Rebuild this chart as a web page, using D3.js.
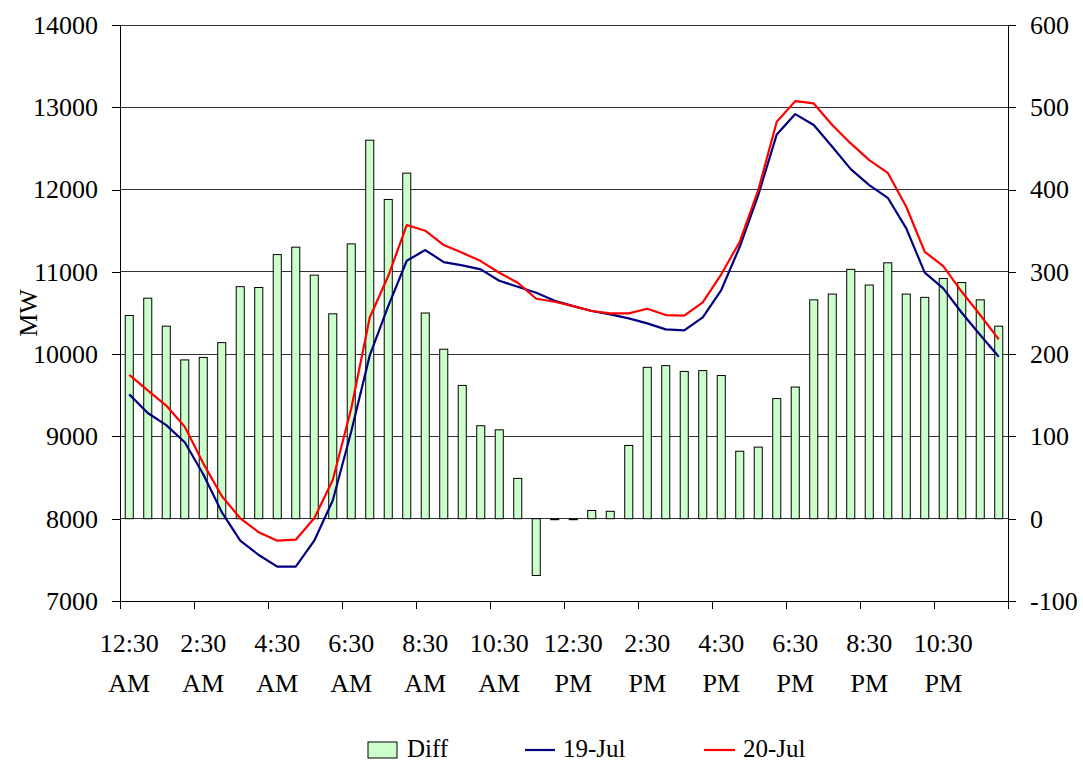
<!DOCTYPE html>
<html>
<head>
<meta charset="utf-8">
<script src="https://cdn.jsdelivr.net/npm/d3@7"></script>
<style>
  body { margin: 0; background: #fff; }
</style>
</head>
<body>
<div id="chart-container"></div>
<script>
// half hour intervals
const categories = [
    "12:30 AM", "1:00 AM", "1:30 AM", "2:00 AM", "2:30 AM", "3:00 AM", "3:30 AM", "4:00 AM",
    "4:30 AM", "5:00 AM", "5:30 AM", "6:00 AM", "6:30 AM", "7:00 AM", "7:30 AM", "8:00 AM",
    "8:30 AM", "9:00 AM", "9:30 AM", "10:00 AM", "10:30 AM", "11:00 AM", "11:30 AM", "12:00 PM",
    "12:30 PM", "1:00 PM", "1:30 PM", "2:00 PM", "2:30 PM", "3:00 PM", "3:30 PM", "4:00 PM",
    "4:30 PM", "5:00 PM", "5:30 PM", "6:00 PM", "6:30 PM", "7:00 PM", "7:30 PM", "8:00 PM",
    "8:30 PM", "9:00 PM", "9:30 PM", "10:00 PM", "10:30 PM", "11:00 PM", "11:30 PM", "12:00 AM"
];
const tickLabels = [
    "12:30 AM", "2:30 AM", "4:30 AM", "6:30 AM", "8:30 AM", "10:30 AM",
    "12:30 PM", "2:30 PM", "4:30 PM", "6:30 PM", "8:30 PM", "10:30 PM"
];
const diffValues = [
    247, 268, 234, 193, 196, 214, 282, 281, 321, 330, 296, 249,
    334, 460, 388, 420, 250, 206, 162, 113, 108, 49, -69, -1,
    -1, 10, 9, 89, 184, 186, 179, 180, 174, 82, 87, 146,
    160, 266, 273, 303, 284, 311, 273, 269, 292, 287, 266, 234
];
const jul19Values = [
    9511, 9285, 9138, 8930, 8540, 8080, 7733, 7559, 7417, 7417, 7733, 8222,
    9060, 9985, 10584, 11135, 11265, 11119, 11079, 11030, 10892, 10819, 10746, 10649,
    10584, 10524, 10484, 10435, 10374, 10301, 10289, 10447, 10779, 11305, 11933, 12670,
    12917, 12784, 12520, 12249, 12055, 11900, 11528, 10990, 10800, 10503, 10232, 9968
];
const jul20Values = [
    9748, 9560, 9375, 9118, 8673, 8276, 8005, 7835, 7733, 7745, 8005, 8470,
    9340, 10445, 10949, 11569, 11500, 11326, 11232, 11131, 10989, 10868, 10673, 10637,
    10584, 10524, 10496, 10496, 10552, 10475, 10467, 10629, 10970, 11366, 11994, 12824,
    13075, 13047, 12784, 12561, 12358, 12204, 11791, 11244, 11070, 10758, 10475, 10180
];
const leftTicks = [7000, 8000, 9000, 10000, 11000, 12000, 13000, 14000];
const rightTicks = [-100, 0, 100, 200, 300, 400, 500, 600];

const width = 1083;
const height = 762;
const plotLeft = 120;
const plotRight = 1008;
const plotTop = 25;
const plotBottom = 601;
const fontSize = 26;
const fontFamily = '"Liberation Serif", "Times New Roman", Times, serif';
const barFill = "#ccffcc";
const jul19Color = "#000080";
const jul20Color = "#ff0000";

const svg = d3.select("#chart-container").append("svg")
    .attr("width", width)
    .attr("height", height)
    .style("font-family", fontFamily);

const x = d3.scaleBand()
    .domain(categories)
    .range([plotLeft, plotRight])
    .paddingInner(0.565)
    .paddingOuter(0.2825);
const yLeft = d3.scaleLinear().domain([7000, 14000]).range([plotBottom, plotTop]);
const yRight = d3.scaleLinear().domain([-100, 600]).range([plotBottom, plotTop]);
const cx = (c) => x(c) + x.bandwidth() / 2;

// gridlines
svg.append("g")
    .selectAll("line")
    .data(leftTicks.slice(1))
    .enter().append("line")
    .attr("x1", plotLeft)
    .attr("x2", plotRight)
    .attr("y1", (d) => yLeft(d))
    .attr("y2", (d) => yLeft(d))
    .attr("stroke", "#333")
    .attr("stroke-width", 1)
    .attr("shape-rendering", "crispEdges");

// add bars
svg.append("g")
    .selectAll(".bar")
    .data(diffValues)
    .enter().append("rect")
    .attr("class", "bar")
    .attr("x", (d, i) => x(categories[i]))
    .attr("width", x.bandwidth())
    .attr("y", (d) => Math.min(yRight(d), yRight(0)))
    .attr("height", (d) => Math.max(1, Math.abs(yRight(d) - yRight(0))))
    .attr("fill", barFill)
    .attr("stroke", "#000")
    .attr("stroke-width", 1);

// add lines
const line = (values, scale) => d3.line()
    .x((d, i) => cx(categories[i]))
    .y((d) => scale(d))(values);
svg.append("path")
    .attr("d", line(jul19Values, yLeft))
    .attr("fill", "none")
    .attr("stroke", jul19Color)
    .attr("stroke-width", 2.2)
    .attr("stroke-linejoin", "round");
svg.append("path")
    .attr("d", line(jul20Values, yLeft))
    .attr("fill", "none")
    .attr("stroke", jul20Color)
    .attr("stroke-width", 2.2)
    .attr("stroke-linejoin", "round");

// left axis
const leftAxis = svg.append("g")
    .attr("transform", `translate(${plotLeft},0)`)
    .call(d3.axisLeft(yLeft).tickValues(leftTicks).tickFormat(d3.format("d"))
        .tickSize(8).tickSizeOuter(0).tickPadding(14));
// right axis
const rightAxis = svg.append("g")
    .attr("transform", `translate(${plotRight},0)`)
    .call(d3.axisRight(yRight).tickValues(rightTicks).tickFormat(d3.format("d"))
        .tickSize(8).tickSizeOuter(0).tickPadding(14));
for (let ax of [leftAxis, rightAxis]) {
    ax.attr("font-family", null).attr("font-size", null);
    ax.selectAll("path, line").attr("stroke", "#000").attr("shape-rendering", "crispEdges");
    ax.selectAll("text")
        .attr("fill", "#000")
        .style("font-family", fontFamily)
        .style("font-size", fontSize + "px");
}
rightAxis.selectAll("text").text((d) => d < 0 ? "-" + Math.abs(d) : d);

// bottom axis line and ticks
svg.append("line")
    .attr("x1", plotLeft).attr("x2", plotRight)
    .attr("y1", plotBottom).attr("y2", plotBottom)
    .attr("stroke", "#000")
    .attr("shape-rendering", "crispEdges");
const boundaryX = (i) => i < categories.length
    ? x(categories[i]) - x.step() * x.paddingInner() / 2
    : plotRight;
svg.append("g")
    .selectAll("line")
    .data(d3.range(0, categories.length + 1, 4))
    .enter().append("line")
    .attr("x1", (i) => boundaryX(i))
    .attr("x2", (i) => boundaryX(i))
    .attr("y1", plotBottom)
    .attr("y2", plotBottom + 8)
    .attr("stroke", "#000")
    .attr("shape-rendering", "crispEdges");

// category labels, two lines
const labels = svg.append("g")
    .selectAll("text")
    .data(tickLabels)
    .enter().append("text")
    .attr("text-anchor", "middle")
    .style("font-family", fontFamily)
    .style("font-size", fontSize + "px");
labels.append("tspan")
    .attr("x", (d) => cx(d))
    .attr("y", 652)
    .text((d) => d.split(" ")[0]);
labels.append("tspan")
    .attr("x", (d) => cx(d))
    .attr("y", 692)
    .text((d) => d.split(" ")[1]);

// axis title
svg.append("text")
    .attr("transform", `translate(37,${(plotTop + plotBottom) / 2}) rotate(-90)`)
    .attr("text-anchor", "middle")
    .style("font-family", fontFamily)
    .style("font-size", fontSize + "px")
    .text("MW");

// legend
const legend = svg.append("g")
    .style("font-family", fontFamily)
    .style("font-size", "25px");
legend.append("rect")
    .attr("x", 368).attr("y", 742)
    .attr("width", 29).attr("height", 16)
    .attr("fill", barFill)
    .attr("stroke", "#000");
legend.append("text")
    .attr("x", 407).attr("y", 757)
    .text("Diff");
legend.append("line")
    .attr("x1", 525).attr("x2", 555)
    .attr("y1", 750).attr("y2", 750)
    .attr("stroke", jul19Color)
    .attr("stroke-width", 2.2);
legend.append("text")
    .attr("x", 563).attr("y", 757)
    .text("19-Jul");
legend.append("line")
    .attr("x1", 704).attr("x2", 735)
    .attr("y1", 750).attr("y2", 750)
    .attr("stroke", jul20Color)
    .attr("stroke-width", 2.2);
legend.append("text")
    .attr("x", 743).attr("y", 757)
    .text("20-Jul");
</script>
</body>
</html>
